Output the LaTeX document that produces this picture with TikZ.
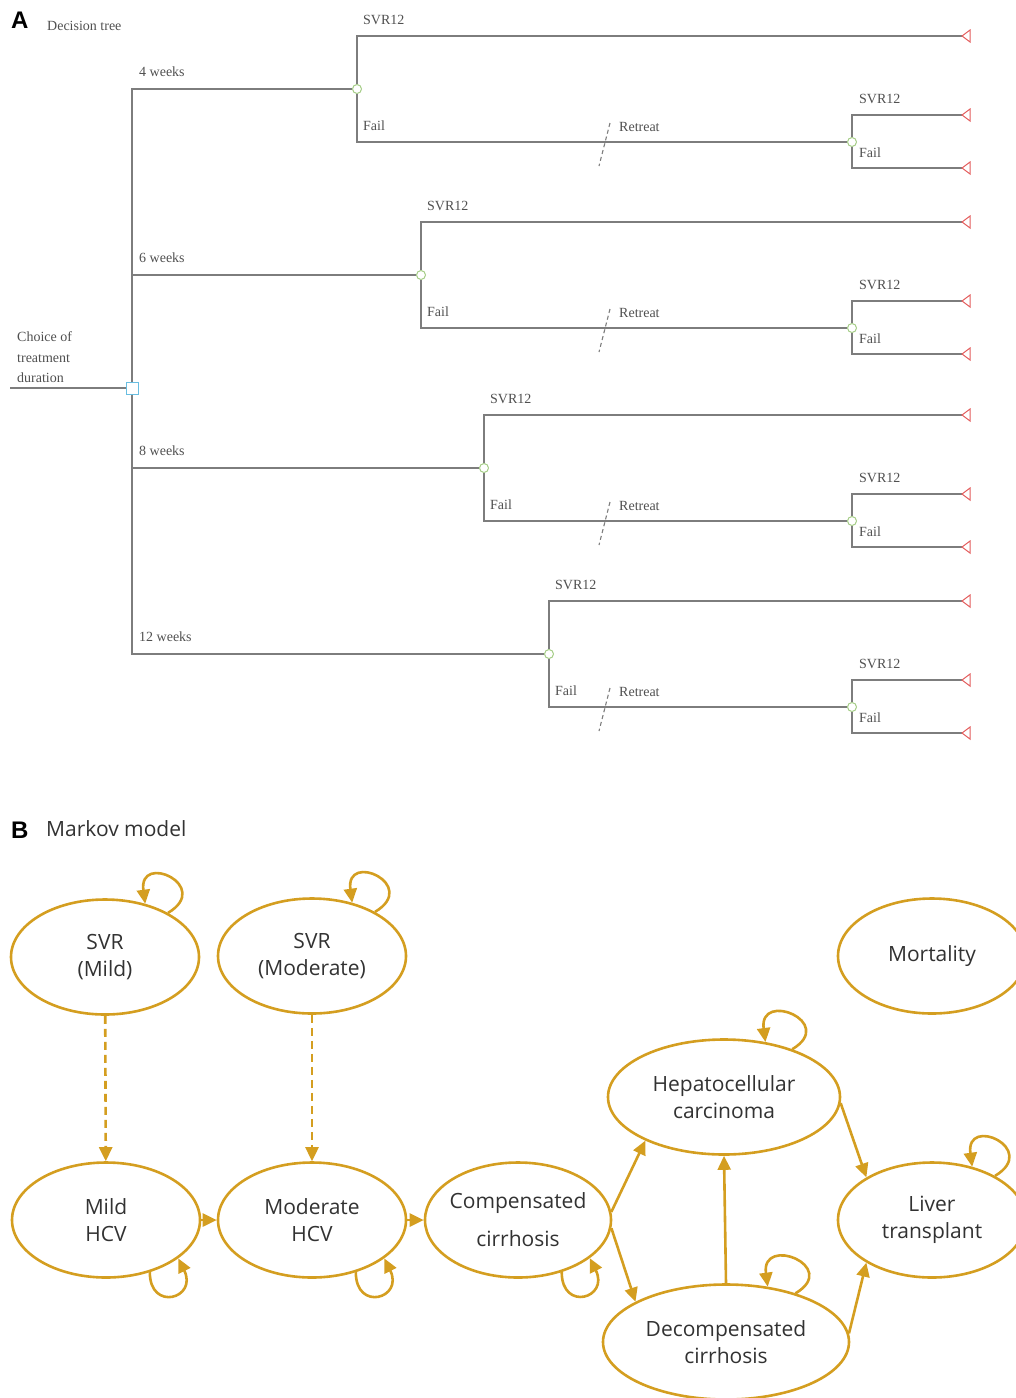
\documentclass[tikz,border=0pt]{standalone}
\usepackage{fontspec}
\usepackage{tikz}
\usetikzlibrary{arrows.meta}
\usetikzlibrary{shapes.geometric}
\newfontfamily\treefont{Liberation Serif}
\newfontfamily\markovfont{Open Sans}
\newfontfamily\panelfont{Liberation Sans}
\definecolor{treegray}{RGB}{125,125,125}
\definecolor{treeink}{RGB}{80,80,80}
\definecolor{chancegreen}{RGB}{165,205,135}
\definecolor{decisionblue}{RGB}{105,190,225}
\definecolor{leafred}{RGB}{228,95,95}
\definecolor{markov}{RGB}{212,158,32}
\definecolor{markovink}{RGB}{50,50,50}

\tikzset{
  treeline/.style={draw=treegray, line width=1.9pt},
  chance/.style={circle, draw=chancegreen, fill=white, line width=1pt, minimum size=9pt, inner sep=0pt},
  decision/.style={rectangle, draw=decisionblue, fill=white, line width=1pt, minimum size=12pt, inner sep=0pt},
  leaf/.style={draw=leafred, fill=white, line width=1pt},
  retreatmark/.style={draw=treegray, line width=1.1pt, dash pattern=on 4pt off 3pt},
  treetext/.style={anchor=base west, inner sep=0pt, text=treeink, font={\treefont\fontsize{14}{20.5}\selectfont}},
  state/.style={ellipse, draw=markov, line width=2.6pt, minimum width=188pt, minimum height=115pt, inner sep=0pt},
  statetext/.style={align=center, text=markovink, font={\markovfont\fontsize{21}{27}\selectfont}},
  flow/.style={draw=markov, line width=2.6pt, -{Triangle[length=14pt,width=13pt]}},
  drift/.style={flow, dash pattern=on 8pt off 5pt}
}

\begin{document}
\begin{tikzpicture}[x=1pt,y=-1pt]
  \useasboundingbox (0,0) rectangle (1016,1398);
  \clip (0,0) rectangle (1016,1398);

  % A: decision tree
  \node[anchor=base west, inner sep=0pt, font={\panelfont\bfseries\fontsize{24}{24}\selectfont}] (pa) at (11,28) {A};
  \node[treetext] (dtitle) at (47,30) {Decision tree};

  \node[decision] (d) at (132,388) {};
  \coordinate (root) at (10,388);
  \draw[treeline] (root) -- (d);
  \node[treetext, align=left, anchor=south west] (choice) at (17,383) {Choice of\\treatment\\duration};

  \foreach \i/\yb/\xc/\wk in {1/89/357/4 weeks, 2/275/421/6 weeks, 3/468/484/8 weeks, 4/654/549/12 weeks} {
    \node[chance] (c\i) at (\xc,\yb) {};
    \node[chance] (r\i) at (852,\yb+53) {};
    \coordinate (s\i) at (962,\yb-53);
    \coordinate (rs\i) at (962,\yb+26);
    \coordinate (rf\i) at (962,\yb+79);
    \draw[treeline] (d) |- (c\i);
    \draw[treeline] (c\i) |- (s\i);
    \draw[treeline] (c\i) |- (r\i);
    \draw[treeline] (r\i) |- (rs\i);
    \draw[treeline] (r\i) |- (rf\i);
    \draw[retreatmark] (610,\yb+34) -- (599,\yb+77);
    \foreach \e in {s\i,rs\i,rf\i}
      \draw[leaf] (\e) -- ++(8,-6) -- ++(0,12) -- cycle;
    % labels
    \node[treetext] (w\i) at (139,\yb-13) {\wk};
    \node[treetext] (ls\i) at (\xc+6,\yb-65) {SVR12};
    \node[treetext] (lf\i) at (\xc+6,\yb+41) {Fail};
    \node[treetext] (lr\i) at (619,\yb+42) {Retreat};
    \node[treetext] (lrs\i) at (859,\yb+14) {SVR12};
    \node[treetext] (lrf\i) at (859,\yb+68) {Fail};
  }

  % B: Markov model
  \node[anchor=base west, inner sep=0pt, font={\panelfont\bfseries\fontsize{24}{24}\selectfont}] (pb) at (11,838) {B};
  \node[anchor=base west, inner sep=0pt, text=markovink, font={\markovfont\fontsize{21}{27}\selectfont}] (mtitle) at (46,836) {Markov model};

  \foreach \nm/\x/\y/\w/\txt in {
      svrmild/105/957/188/{SVR\\(Mild)},
      svrmod/312/956/188/{SVR\\(Moderate)},
      mort/932/956/188/{Mortality},
      hcc/724/1097/232/{Hepatocellular\\carcinoma},
      mildhcv/106/1220/188/{Mild\\HCV},
      modhcv/312/1220/188/{Moderate\\HCV},
      comp/518/1220/186/{Compensated\\[11pt]cirrhosis},
      liver/932/1220/188/{Liver\\transplant},
      decomp/726/1342/246/{Decompensated\\cirrhosis}} {
    \node[state, minimum width=\w pt] (\nm) at (\x,\y) {};
    \node[statetext] (\nm-t) at (\nm) {\txt};
  }

  \draw[drift] (svrmild) -- (mildhcv);
  \draw[drift] (svrmod) -- (modhcv);
  \draw[flow] (mildhcv) -- (modhcv);
  \draw[flow] (modhcv) -- (comp);
  \draw[flow] (comp.5) -- (hcc.209);
  \draw[flow] (comp.-5) -- (decomp.156);
  \draw[flow] (decomp.north) -- (hcc.south);
  \draw[flow] (hcc.-3) -- (liver.147);
  \draw[flow] (decomp.4) -- (liver.213);

  % self loops
  \foreach \s in {svrmild,svrmod,hcc,decomp,liver}
    \draw[flow] (\s.35) .. controls +(45,-27) and +(-7,-52) .. (\s.53);
  \foreach \s in {mildhcv,modhcv,comp}
    \draw[flow] (\s.-50) .. controls +(0,40) and +(20,40) .. (\s.-28);
\end{tikzpicture}
\end{document}
